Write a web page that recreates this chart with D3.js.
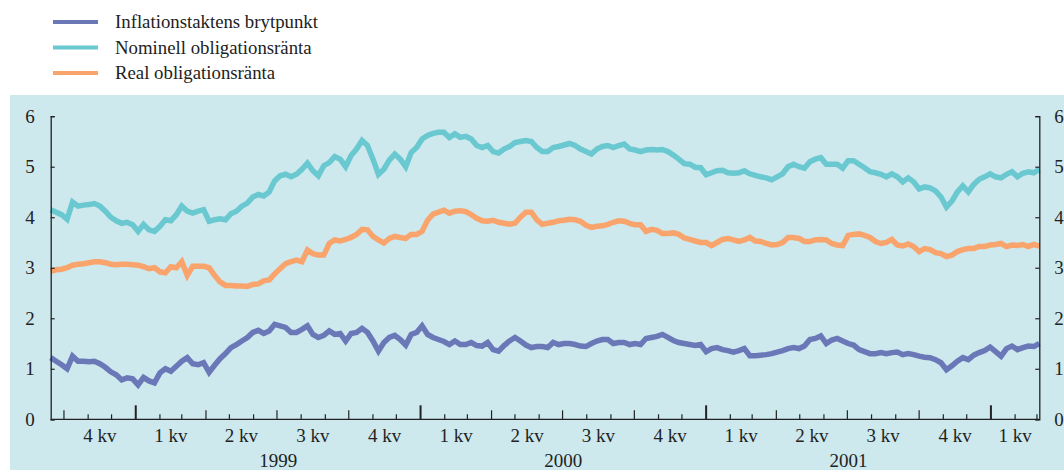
<!DOCTYPE html>
<html><head><meta charset="utf-8">
<script src="https://cdn.jsdelivr.net/npm/d3@7"></script>
<style>
html,body{margin:0;padding:0;background:#fff;}
svg{display:block;}
text{font-family:"Liberation Serif","Times New Roman",serif;fill:#222;}
</style></head>
<body>
<svg id="chart" width="1064" height="470"></svg>
<script>
// ---- data (weekly readings, starting 1998-09-14) ----
const startDate = "1998-09-14";
const seriesNames = ["Inflationstaktens brytpunkt","Nominell obligationsränta","Real obligationsränta"];
const seriesColors = ["#6b78b8","#6ac8d0","#f9a46c"];

const breakeven = [
1.22,1.15,1.08,1.0,1.25,1.15,1.15,1.14,1.15,1.1,1.03,0.94,0.88,0.78,0.82,0.8,0.68,0.83,0.76,0.72,
0.92,1.0,0.95,1.05,1.15,1.22,1.1,1.08,1.12,0.93,1.07,1.2,1.3,1.42,1.48,1.55,1.62,1.72,1.76,1.7,
1.75,1.88,1.85,1.82,1.72,1.72,1.78,1.85,1.68,1.62,1.66,1.75,1.68,1.7,1.55,1.7,1.72,1.8,1.72,1.55,
1.35,1.52,1.62,1.66,1.58,1.47,1.68,1.72,1.85,1.68,1.62,1.58,1.54,1.48,1.55,1.48,1.48,1.52,1.46,1.45,
1.52,1.38,1.35,1.46,1.55,1.62,1.55,1.47,1.42,1.44,1.44,1.42,1.52,1.48,1.5,1.5,1.48,1.45,1.44,1.5,
1.55,1.58,1.58,1.5,1.52,1.52,1.48,1.5,1.48,1.6,1.62,1.64,1.68,1.62,1.56,1.52,1.5,1.48,1.46,1.48,
1.34,1.4,1.42,1.38,1.36,1.33,1.36,1.4,1.26,1.26,1.27,1.28,1.3,1.33,1.36,1.4,1.42,1.4,1.45,1.58,
1.6,1.65,1.5,1.57,1.6,1.55,1.5,1.47,1.38,1.34,1.3,1.3,1.32,1.3,1.32,1.33,1.28,1.3,1.28,1.25,
1.23,1.22,1.18,1.12,0.98,1.06,1.15,1.22,1.18,1.27,1.32,1.36,1.43,1.34,1.25,1.4,1.45,1.38,1.42,1.45,
1.44,1.5];

const nominal = [
4.15,4.1,4.05,3.96,4.3,4.22,4.24,4.25,4.27,4.22,4.12,4.0,3.93,3.88,3.9,3.85,3.72,3.86,3.75,3.72,
3.82,3.95,3.93,4.05,4.22,4.12,4.08,4.12,4.15,3.92,3.95,3.97,3.95,4.07,4.12,4.22,4.28,4.4,4.45,4.42,
4.5,4.72,4.82,4.85,4.8,4.85,4.95,5.07,4.92,4.82,5.02,5.08,5.2,5.15,5.0,5.22,5.35,5.52,5.42,5.15,
4.85,4.95,5.13,5.25,5.15,5.0,5.28,5.38,5.55,5.62,5.66,5.68,5.68,5.58,5.65,5.58,5.6,5.55,5.42,5.38,
5.42,5.3,5.27,5.35,5.4,5.48,5.5,5.52,5.5,5.38,5.3,5.3,5.38,5.4,5.43,5.46,5.42,5.35,5.3,5.25,
5.35,5.4,5.42,5.38,5.42,5.45,5.35,5.33,5.3,5.33,5.34,5.33,5.34,5.3,5.23,5.15,5.06,5.05,4.99,4.98,
4.84,4.88,4.92,4.93,4.88,4.87,4.88,4.92,4.86,4.83,4.8,4.78,4.74,4.8,4.86,5.0,5.05,5.0,4.97,5.1,
5.15,5.18,5.05,5.05,5.05,4.97,5.12,5.12,5.05,4.98,4.9,4.88,4.85,4.8,4.86,4.8,4.7,4.78,4.7,4.56,
4.6,4.58,4.52,4.4,4.2,4.32,4.5,4.62,4.5,4.65,4.75,4.8,4.86,4.8,4.78,4.85,4.9,4.8,4.87,4.9,
4.88,4.95];

const real = [
2.93,2.96,2.97,3.0,3.05,3.07,3.08,3.1,3.12,3.12,3.1,3.07,3.06,3.07,3.07,3.06,3.05,3.02,2.98,3.0,
2.92,2.9,3.02,3.0,3.12,2.85,3.03,3.03,3.03,3.0,2.85,2.72,2.65,2.65,2.64,2.64,2.63,2.67,2.68,2.74,
2.76,2.88,2.98,3.08,3.12,3.15,3.12,3.35,3.28,3.25,3.25,3.48,3.55,3.53,3.56,3.6,3.66,3.76,3.75,3.62,
3.55,3.49,3.58,3.62,3.6,3.58,3.66,3.66,3.72,3.94,4.06,4.1,4.14,4.08,4.12,4.13,4.11,4.05,3.98,3.93,
3.92,3.94,3.9,3.88,3.86,3.88,4.0,4.1,4.1,3.95,3.86,3.88,3.9,3.93,3.94,3.96,3.95,3.92,3.84,3.8,
3.82,3.83,3.86,3.9,3.93,3.92,3.88,3.85,3.85,3.72,3.76,3.74,3.68,3.68,3.69,3.66,3.59,3.56,3.53,3.5,
3.5,3.44,3.5,3.56,3.58,3.55,3.52,3.55,3.6,3.53,3.52,3.48,3.45,3.46,3.5,3.6,3.6,3.58,3.52,3.52,
3.55,3.56,3.55,3.48,3.45,3.44,3.64,3.66,3.67,3.64,3.6,3.52,3.48,3.5,3.56,3.45,3.43,3.47,3.42,3.32,
3.38,3.36,3.3,3.28,3.22,3.25,3.32,3.36,3.38,3.38,3.42,3.42,3.45,3.46,3.48,3.42,3.45,3.44,3.46,3.42,
3.46,3.43];

const yTicks = [0,1,2,3,4,5,6];
const quarterLabels = ["4 kv","1 kv","2 kv","3 kv","4 kv","1 kv","2 kv","3 kv","4 kv","1 kv","2 kv","3 kv","4 kv","1 kv"];
const yearLabels = ["1999","2000","2001"];

// ---- drawing ----
const svg = d3.select("#chart");
const parse = d3.timeParse("%Y-%m-%d");
const t0 = parse(startDate);
const dates = breakeven.map((_, i) => d3.timeDay.offset(t0, 7 * i));
const tEnd = dates[dates.length - 1];

const L = 50.7, R = 1039.3, T = 116.2, B = 419.3;
const x = d3.scaleTime().domain([t0, tEnd]).range([L, R]);
const y = d3.scaleLinear().domain([0, 6]).range([B, T]);

svg.append("rect").attr("x", 10).attr("y", 95).attr("width", 1054).attr("height", 375).attr("fill", "#cde9ee");

// legend
const leg = svg.append("g");
seriesNames.forEach((n, i) => {
  const yy = 22 + i * 25.5;
  leg.append("line").attr("x1", 53).attr("x2", 98).attr("y1", yy).attr("y2", yy)
    .attr("stroke", seriesColors[i]).attr("stroke-width", 4);
  leg.append("text").attr("x", 115).attr("y", yy + 6).attr("font-size", 18.8).text(n);
});

// lines
const allSeries = [breakeven, nominal, real];
const line = d3.line().x((d, i) => x(dates[i])).y(d => y(d)).curve(d3.curveLinear);
allSeries.forEach((s, k) => {
  svg.append("path").datum(s).attr("d", line).attr("fill", "none")
    .attr("stroke", seriesColors[k]).attr("stroke-width", 5.5).attr("stroke-linejoin", "miter").attr("stroke-miterlimit", 3);
});

// axes
const axCol = "#222";
const yl = d3.axisLeft(y).tickValues(yTicks).tickSize(-4).tickPadding(16).tickFormat(d3.format("d"));
const gl = svg.append("g").attr("transform", `translate(${L},0)`).call(yl);
const yr = d3.axisRight(y).tickValues(yTicks).tickSize(-4).tickPadding(15).tickFormat(d3.format("d"));
const gr = svg.append("g").attr("transform", `translate(${R},0)`).call(yr);
[gl, gr].forEach(g => {
  g.select(".domain").attr("stroke", axCol).attr("stroke-width", 1.3);
  g.selectAll(".tick line").attr("stroke", axCol).attr("stroke-width", 1.2);
  g.selectAll(".tick text").attr("font-size", 19).attr("font-family", "Liberation Serif, serif").attr("fill", "#222");
});

// x axis: months small, quarters medium, years tall
const months = d3.timeMonth.range(d3.timeMonth.ceil(t0), tEnd);
const gx = svg.append("g");
gx.append("line").attr("x1", L).attr("x2", R).attr("y1", B).attr("y2", B).attr("stroke", axCol).attr("stroke-width", 1.3);
months.forEach(m => {
  const mo = m.getMonth();
  const h = mo === 0 ? 14 : (mo % 3 === 0 ? 9 : 5);
  gx.append("line").attr("x1", x(m)).attr("x2", x(m)).attr("y1", B).attr("y2", B - h)
    .attr("stroke", axCol).attr("stroke-width", mo === 0 ? 2 : 1.2);
});
// quarter labels centered in visible part of each quarter
const qStarts = d3.timeMonth.every(3).range(d3.timeMonth.every(3).ceil(t0), tEnd);
qStarts.forEach((q, i) => {
  const qe = d3.timeMonth.offset(q, 3);
  const b = qe > tEnd ? tEnd : qe;
  if (i < quarterLabels.length) {
    gx.append("text").attr("x", (x(q) + x(b)) / 2).attr("y", 442).attr("text-anchor", "middle")
      .attr("font-size", 19).text(quarterLabels[i]);
  }
});
yearLabels.forEach(yl => {
  const a = parse(yl + "-01-01"), b = parse((+yl + 1) + "-01-01");
  gx.append("text").attr("x", (x(a) + x(b)) / 2).attr("y", 467).attr("text-anchor", "middle")
    .attr("font-size", 19).text(yl);
});
</script>
</body></html>
